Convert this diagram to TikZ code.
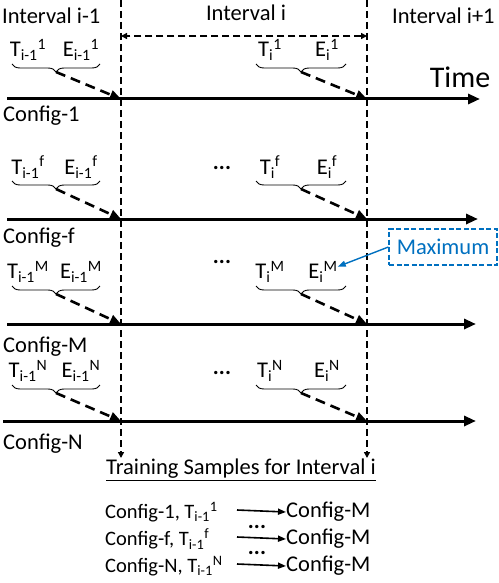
\documentclass[tikz,border=0pt]{standalone}
\usepackage{fontspec}
\setmainfont{Carlito}
\usetikzlibrary{arrows.meta,decorations.pathreplacing}
\definecolor{maxblue}{RGB}{0,112,192}
\begin{document}
\begin{tikzpicture}[x=1pt,y=-1pt,
  lbl/.style={inner sep=0pt, font=\fontsize{22.5}{26}\selectfont},
  sample/.style={inner sep=0pt, anchor=west, font=\fontsize{20.5}{24}\selectfont},
  axis/.style={line width=3pt, -{Triangle[length=12pt,width=10pt]}},
  bound/.style={line width=1.6pt, dash pattern=on 7pt off 4pt, -{Triangle[length=6pt,width=6pt]}},
  span/.style={line width=1.6pt, dash pattern=on 7pt off 4pt, {Triangle[length=6pt,width=6pt]}-{Triangle[length=6pt,width=6pt]}},
  jump/.style={line width=2.6pt, dash pattern=on 10pt off 6pt, -{Triangle[length=11pt,width=9pt]}},
  ubrace/.style={line width=0.9pt, decorate, decoration={brace,mirror,amplitude=8pt}},
  maparrow/.style={line width=1.6pt, -{Triangle[length=8pt,width=6pt]}},
  maxbox/.style={draw=maxblue, text=maxblue, dash pattern=on 5pt off 2.5pt, line width=1.2pt, minimum width=108pt, minimum height=36pt, font=\fontsize{22.5}{26}\selectfont},
  maxarrow/.style={draw=maxblue, line width=1.4pt, -{Triangle[length=8pt,width=6pt]}}]
\useasboundingbox (0,0) rectangle (498,583);
% interval boundaries
\coordinate (Ltop) at (121,0);
\coordinate (Lbot) at (121,458);
\coordinate (Rtop) at (367,0);
\coordinate (Rbot) at (367,458);
\coordinate (spanL) at (121,36);
\coordinate (spanR) at (367,36);
\draw [bound] (Ltop) -- (Lbot);
\draw [bound] (Rtop) -- (Rbot);
\draw [span] (spanR) -- (spanL);
\node [lbl, anchor=west] (int0) at (2,16) {Interval i-1};
\node [lbl] (int1) at (246,13) {Interval i};
\node [lbl, anchor=west] (int2) at (392,16) {Interval i+1};
\node [inner sep=0pt, font=\fontsize{30}{34}\selectfont] (time) at (460,77) {Time};
% time axes
\coordinate (a1s) at (7,99);   \coordinate (a1e) at (480,99);
\coordinate (afs) at (7,219);  \coordinate (afe) at (478,219);
\coordinate (aMs) at (7,324);  \coordinate (aMe) at (476,324);
\coordinate (aNs) at (3,421);  \coordinate (aNe) at (476,421);
\draw [axis] (a1s) -- (a1e);
\draw [axis] (afs) -- (afe);
\draw [axis] (aMs) -- (aMe);
\draw [axis] (aNs) -- (aNe);
\node [lbl, anchor=west] (c1) at (3,116) {Config-1};
\node [lbl, anchor=west] (cf) at (3,238) {Config-f};
\node [lbl, anchor=west] (cM) at (3,347) {Config-M};
\node [lbl, anchor=west] (cN) at (3,444) {Config-N};
% crossing points
\coordinate (X1l) at (121,99);  \coordinate (X1r) at (367,99);
\coordinate (Xfl) at (121,219); \coordinate (Xfr) at (367,219);
\coordinate (XMl) at (121,324); \coordinate (XMr) at (367,324);
\coordinate (XNl) at (121,421); \coordinate (XNr) at (367,421);
% row 1
\node [lbl] (T1l) at (28,50) {T\textsubscript{i-1}\textsuperscript{1}};
\node [lbl] (E1l) at (81,50) {E\textsubscript{i-1}\textsuperscript{1}};
\node [lbl] (T1r) at (270,50) {T\textsubscript{i}\textsuperscript{1}};
\node [lbl] (E1r) at (327,50) {E\textsubscript{i}\textsuperscript{1}};
\draw [ubrace] (12,64) -- (100,64);
\draw [ubrace] (256,64) -- (346,64);
\coordinate (B1l) at (56,72);
\coordinate (B1r) at (301,72);
\draw [jump] (B1l) -- (X1l);
\draw [jump] (B1r) -- (X1r);
% row f
\node [lbl] (Tfl) at (28,167) {T\textsubscript{i-1}\textsuperscript{f}};
\node [lbl] (Efl) at (81,167) {E\textsubscript{i-1}\textsuperscript{f}};
\node [lbl] (Tfr) at (270,167) {T\textsubscript{i}\textsuperscript{f}};
\node [lbl] (Efr) at (327,167) {E\textsubscript{i}\textsuperscript{f}};
\node [lbl] (dotsf) at (222,168) {\textbf{...}};
\draw [ubrace] (12,181) -- (100,181);
\draw [ubrace] (256,181) -- (346,181);
\coordinate (Bfl) at (56,189);
\coordinate (Bfr) at (301,189);
\draw [jump] (Bfl) -- (Xfl);
\draw [jump] (Bfr) -- (Xfr);
% row M
\node [lbl] (TMl) at (28,272) {T\textsubscript{i-1}\textsuperscript{M}};
\node [lbl] (EMl) at (81,272) {E\textsubscript{i-1}\textsuperscript{M}};
\node [lbl] (TMr) at (270,272) {T\textsubscript{i}\textsuperscript{M}};
\node [lbl] (EMr) at (323,272) {E\textsubscript{i}\textsuperscript{M}};
\node [lbl] (dotsM) at (222,262) {\textbf{...}};
\draw [ubrace] (12,286) -- (100,286);
\draw [ubrace] (256,286) -- (346,286);
\coordinate (BMl) at (56,294);
\coordinate (BMr) at (301,294);
\draw [jump] (BMl) -- (XMl);
\draw [jump] (BMr) -- (XMr);
% row N
\node [lbl] (TNl) at (28,371) {T\textsubscript{i-1}\textsuperscript{N}};
\node [lbl] (ENl) at (81,371) {E\textsubscript{i-1}\textsuperscript{N}};
\node [lbl] (TNr) at (270,371) {T\textsubscript{i}\textsuperscript{N}};
\node [lbl] (ENr) at (327,371) {E\textsubscript{i}\textsuperscript{N}};
\node [lbl] (dotsN) at (222,373) {\textbf{...}};
\draw [ubrace] (12,385) -- (100,385);
\draw [ubrace] (256,385) -- (346,385);
\coordinate (BNl) at (56,393);
\coordinate (BNr) at (301,393);
\draw [jump] (BNl) -- (XNl);
\draw [jump] (BNr) -- (XNr);
% maximum
\node [maxbox] (max) at (443,247) {Maximum};
\draw [maxarrow] (max.west) -- (EMr.20);
% training samples
\node [lbl] (train) at (241,470) {\underline{Training Samples for Interval i}};
\node [sample] (s1) at (105,512) {Config-1, T\textsubscript{i-1}\textsuperscript{1}};
\node [sample] (sf) at (105,539) {Config-f, T\textsubscript{i-1}\textsuperscript{f}};
\node [sample] (sN) at (105,566) {Config-N, T\textsubscript{i-1}\textsuperscript{N}};
\node [lbl, anchor=west] (m1) at (286,512) {Config-M};
\node [lbl, anchor=west] (mf) at (286,539) {Config-M};
\node [lbl, anchor=west] (mN) at (286,566) {Config-M};
\coordinate (g1) at (237,510);
\coordinate (gf) at (237,537);
\coordinate (gN) at (237,564);
\draw [maparrow] (g1) -- (m1.west);
\draw [maparrow] (gf) -- (mf.west);
\draw [maparrow] (gN) -- (mN.west);
\node [lbl] (dots1) at (257,527) {\textbf{...}};
\node [lbl] (dots2) at (257,553) {\textbf{...}};
\end{tikzpicture}
\end{document}
